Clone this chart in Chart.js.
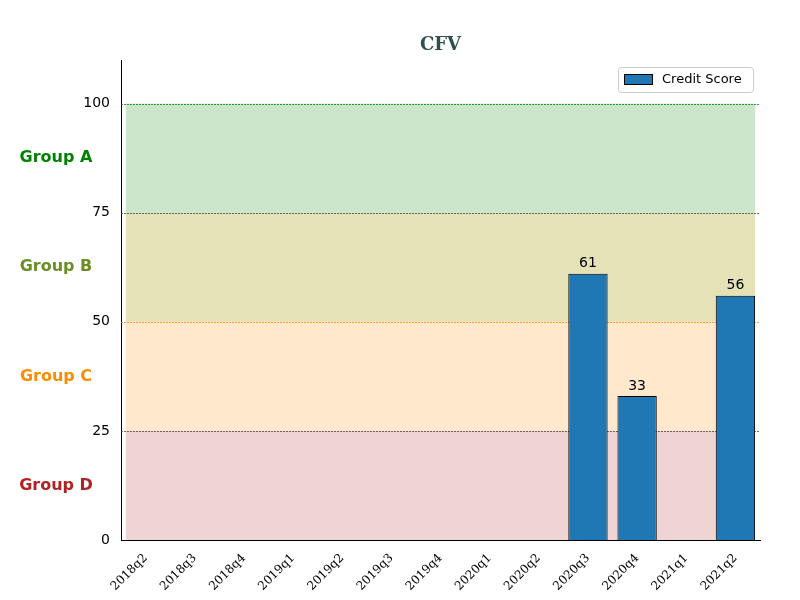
<!DOCTYPE html>
<html>
<head>
<script src="https://cdn.jsdelivr.net/npm/chart.js@4"></script>
<style>body{margin:0;background:#fff}</style>
</head>
<body>
<div style="width:800px;height:600px"><canvas id="c"></canvas></div>
<script>
const quarters = ['2018q2','2018q3','2018q4','2019q1','2019q2','2019q3','2019q4','2020q1','2020q2','2020q3','2020q4','2021q1','2021q2'];
const scores = [null,null,null,null,null,null,null,null,null,61,33,null,56];
const groupNames = ['Group A','Group B','Group C','Group D'];
const groupColors = ['green','olivedrab','darkorange','firebrick'];
const bandBounds = [[75,100],[50,75],[25,50],[0,25]];

const decor = {
    id: 'decor',
    beforeDatasetsDraw(chart) {
        const { ctx, scales: { x, y }, chartArea } = chart;
        const step = x.getPixelForValue(1) - x.getPixelForValue(0);
        const x0 = x.getPixelForValue(0) - 0.4 * step;
        const x1 = x.getPixelForValue(quarters.length - 1) + 0.4 * step;
        ctx.save();
        const fills = ['rgba(0,128,0,0.2)', 'rgba(107,142,35,0.2)', 'rgba(255,140,0,0.2)', 'rgba(178,34,34,0.2)'];
        // green overlaps olive band in the original: paint green over 50-100 too
        ctx.fillStyle = fills[0];
        ctx.fillRect(x0, y.getPixelForValue(100), x1 - x0, y.getPixelForValue(75) - y.getPixelForValue(100));
        ctx.fillStyle = 'rgba(255,165,0,0.2)';
        ctx.fillRect(x0, y.getPixelForValue(75), x1 - x0, y.getPixelForValue(50) - y.getPixelForValue(75));
        ctx.fillStyle = 'rgba(0,128,0,0.1)';
        ctx.fillRect(x0, y.getPixelForValue(75), x1 - x0, y.getPixelForValue(50) - y.getPixelForValue(75));
        ctx.fillStyle = fills[2];
        ctx.fillRect(x0, y.getPixelForValue(50), x1 - x0, y.getPixelForValue(25) - y.getPixelForValue(50));
        ctx.fillStyle = fills[3];
        ctx.fillRect(x0, y.getPixelForValue(25), x1 - x0, y.getPixelForValue(0) - y.getPixelForValue(25));
        const lines = [[100,'green'],[75,'#444'],[50,'darkorange'],[25,'#444']];
        ctx.lineWidth = 0.8;
        ctx.setLineDash([2, 1]);
        lines.forEach(([v, c]) => {
            ctx.strokeStyle = c;
            const py = Math.round(y.getPixelForValue(v)) + 0.5;
            ctx.beginPath(); ctx.moveTo(chartArea.left, py); ctx.lineTo(chartArea.right, py); ctx.stroke();
        });
        ctx.restore();
    },
    afterDraw(chart) {
        const { ctx, scales: { x, y }, chartArea } = chart;
        ctx.save();
        // title
        ctx.fillStyle = '#2F4F4F';
        ctx.font = 'bold 18px "DejaVu Serif", serif';
        ctx.textAlign = 'center'; ctx.textBaseline = 'middle';
        ctx.fillText('CFV', (chartArea.left + chartArea.right) / 2, 45);
        // group labels
        ctx.font = 'bold 16px "DejaVu Sans", sans-serif';
        groupNames.forEach((g, i) => {
            ctx.fillStyle = groupColors[i];
            const mid = (bandBounds[i][0] + bandBounds[i][1]) / 2;
            ctx.fillText(g, 56, y.getPixelForValue(mid));
        });
        // value labels
        ctx.fillStyle = '#000';
        ctx.font = '14px "DejaVu Sans", sans-serif';
        ctx.textBaseline = 'bottom';
        scores.forEach((v, i) => {
            if (v == null) return;
            ctx.fillText(String(v), x.getPixelForValue(i), y.getPixelForValue(v) - 3);
        });
        // legend
        const lx = 618, ly = 67;
        ctx.strokeStyle = '#ccc'; ctx.lineWidth = 1; ctx.fillStyle = 'rgba(255,255,255,0.8)';
        ctx.beginPath(); ctx.roundRect(lx + 0.5, ly + 0.5, 135, 25, 3); ctx.fill(); ctx.stroke();
        ctx.fillStyle = '#1f77b4'; ctx.strokeStyle = '#000';
        ctx.fillRect(lx + 6, ly + 7, 28, 10); ctx.strokeRect(lx + 6.5, ly + 7.5, 28, 10);
        ctx.fillStyle = '#000'; ctx.textAlign = 'left'; ctx.textBaseline = 'middle';
        ctx.font = '13px "DejaVu Sans", sans-serif';
        ctx.fillText('Credit Score', lx + 44, ly + 13);
        ctx.restore();
    }
};

new Chart(document.getElementById('c'), {
    type: 'bar',
    data: {
        labels: quarters,
        datasets: [{
            label: 'Credit Score',
            data: scores,
            backgroundColor: '#1f77b4',
            borderColor: '#000',
            borderWidth: 1,
            barPercentage: 0.8,
            categoryPercentage: 1
        }]
    },
    options: {
        responsive: true,
        maintainAspectRatio: false,
        animation: false,
        layout: { padding: { top: 60, right: 40 } },
        plugins: { legend: { display: false }, tooltip: { enabled: false } },
        scales: {
            y: {
                min: 0, max: 110,
                afterFit: s => { s.width = 121; },
                afterBuildTicks: s => { s.ticks = [0, 25, 50, 75, 100].map(v => ({ value: v })); },
                grid: { display: false, drawTicks: true },
                border: { color: '#000' },
                ticks: { color: '#000', font: { size: 14, family: 'DejaVu Sans' } }
            },
            x: {
                afterFit: s => { s.height = 60; },
                grid: { display: false },
                border: { color: '#000' },
                ticks: { color: '#000', maxRotation: 45, minRotation: 45, font: { size: 12, family: 'DejaVu Serif' } }
            }
        }
    },
    plugins: [decor]
});
</script>
</body>
</html>
